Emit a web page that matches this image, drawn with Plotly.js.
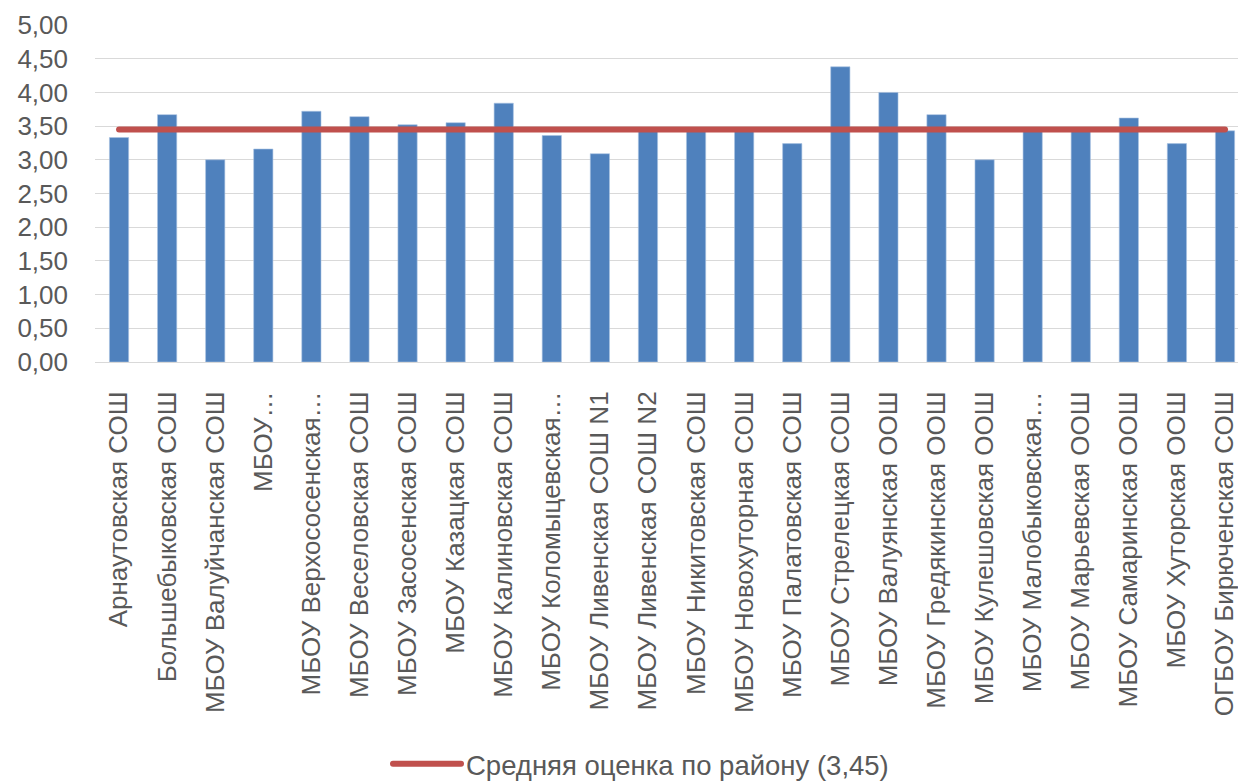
<!DOCTYPE html>
<html>
<head>
<meta charset="utf-8">
<script src="https://cdn.plot.ly/plotly-3.0.1.min.js"></script>
<style>
  html, body { margin: 0; padding: 0; background: #fff; overflow: hidden; }
  #chart { width: 1238px; height: 784px; }
  .scatterlayer path.js-line, .legend path.js-line { stroke-linecap: round; }
</style>
</head>
<body>
<div id="chart"></div>
<script>
const schools = [
  "Арнаутовская СОШ",
  "Большебыковская СОШ",
  "МБОУ Валуйчанская СОШ",
  "МБОУ…",
  "МБОУ Верхососенская…",
  "МБОУ Веселовская СОШ",
  "МБОУ Засосенская СОШ",
  "МБОУ Казацкая СОШ",
  "МБОУ Калиновская СОШ",
  "МБОУ Коломыцевская…",
  "МБОУ Ливенская СОШ N1",
  "МБОУ Ливенская СОШ N2",
  "МБОУ Никитовская СОШ",
  "МБОУ Новохуторная СОШ",
  "МБОУ Палатовская СОШ",
  "МБОУ Стрелецкая СОШ",
  "МБОУ Валуянская ООШ",
  "МБОУ Гредякинская ООШ",
  "МБОУ Кулешовская ООШ",
  "МБОУ Малобыковская…",
  "МБОУ Марьевская ООШ",
  "МБОУ Самаринская ООШ",
  "МБОУ Хуторская ООШ",
  "ОГБОУ Бирюченская СОШ"
];

const scores = [
  3.33, 3.67, 3.00, 3.16, 3.72, 3.64, 3.52, 3.55, 3.84, 3.36, 3.09, 3.45,
  3.45, 3.45, 3.24, 4.38, 4.00, 3.67, 3.00, 3.45, 3.45, 3.62, 3.24, 3.43
];

const districtMean = 3.45;
const meanLabel = "Средняя оценка по району (3,45)";

const yTickValues = [0, 0.5, 1, 1.5, 2, 2.5, 3, 3.5, 4, 4.5, 5];
const yTickLabels = ["0,00", "0,50", "1,00", "1,50", "2,00", "2,50", "3,00", "3,50", "4,00", "4,50", "5,00"];

const FONT = "'Liberation Sans', Arial, sans-serif";
const GREY = "#595959";

const traces = [
  {
    type: "bar",
    x: schools,
    y: scores,
    name: "Оценка",
    showlegend: false,
    marker: { color: "#4F81BD", line: { color: "#A9C3E3", width: 0.6 } },
    hoverinfo: "x+y"
  },
  {
    type: "scatter",
    mode: "lines",
    x: schools,
    y: schools.map(() => districtMean),
    name: meanLabel,
    line: { color: "#C0504D", width: 6 },
    hoverinfo: "name"
  }
];

const layout = {
  width: 1238,
  height: 784,
  margin: { l: 95, r: 0, t: 25, b: 422, pad: 0, autoexpand: false },
  paper_bgcolor: "#ffffff",
  plot_bgcolor: "#ffffff",
  bargap: 0.6,
  font: { family: FONT, color: GREY, size: 24 },
  xaxis: {
    type: "category",
    range: [-0.5, 23.27],
    tickangle: -90,
    tickfont: { family: FONT, size: 26, color: GREY },
    showgrid: false,
    showline: true,
    linecolor: "#D9D9D9",
    linewidth: 1,
    ticks: "",
    ticklabelstandoff: 18,
    automargin: false,
    fixedrange: true
  },
  yaxis: {
    range: [0, 5],
    tickvals: yTickValues,
    ticktext: yTickLabels,
    tickfont: { family: FONT, size: 26, color: GREY },
    showgrid: true,
    gridcolor: "#D9D9D9",
    gridwidth: 1,
    zeroline: false,
    showline: false,
    ticks: "",
    ticklabelstandoff: 26,
    automargin: false,
    fixedrange: true
  },
  showlegend: true,
  legend: {
    orientation: "h",
    x: (426 - 95) / 1143,
    xanchor: "left",
    y: -1.1928,
    yanchor: "middle",
    font: { family: FONT, size: 27.5, color: GREY },
    bgcolor: "rgba(0,0,0,0)"
  }
};

const gd = document.getElementById("chart");

function stretchLegendLine() {
  // lengthen the legend line sample to match the original (approx. 70px)
  gd.querySelectorAll(".legend [clip-path]").forEach(function (el) {
    el.removeAttribute("clip-path");
  });
  gd.querySelectorAll(".legend .legendlines path").forEach(function (p) {
    p.setAttribute("d", "M-33,0h68");
    p.style.strokeLinecap = "round";
  });
}

Plotly.newPlot(gd, traces, layout, { displayModeBar: false, staticPlot: true }).then(function () {
  stretchLegendLine();
  gd.on("plotly_afterplot", stretchLegendLine);
  setTimeout(stretchLegendLine, 0);
  setTimeout(stretchLegendLine, 200);
});
</script>
</body>
</html>
